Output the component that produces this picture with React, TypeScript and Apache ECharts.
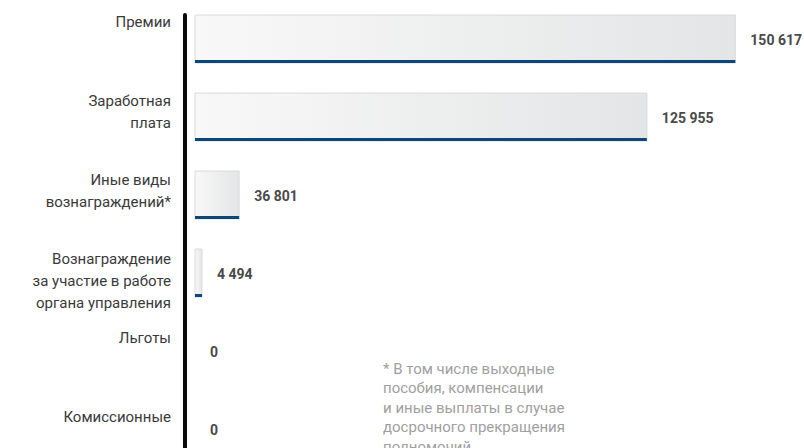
import React, { useEffect, useRef } from "react";
import * as echarts from "echarts";

const categories = [
  "Премии",
  "Заработная\nплата",
  "Иные виды\nвознаграждений*",
  "Вознаграждение\nза участие в работе\nоргана управления",
  "Льготы",
  "Комиссионные",
];
// values printed next to the bars
const values = [150617, 125955, 36801, 4494, 0, 0];
// bar lengths as drawn in the picture (same units as the value axis)
const barLengths = [150617, 125955, 12300, 1950, 0, 0];
const footnoteLines = [
  "* В том числе выходные",
  "пособия, компенсации",
  "и иные выплаты в случае",
  "досрочного прекращения",
  "полномочий",
];

const fmt = (v: number) => String(v).replace(/\B(?=(\d{3})+(?!\d))/g, " ");

const SHIFT = 28; // chart canvas starts above the visible page

export default function App() {
  const ref = useRef<HTMLDivElement>(null);
  useEffect(() => {
    document.body.style.margin = "0";
    document.body.style.overflow = "hidden";
    const chart = echarts.init(ref.current!, null, { renderer: "svg" });
    const data = barLengths.map((b, i) => [b, i, values[i]]);
    const option: any = {
      animation: false,
      backgroundColor: "#ffffff",
      grid: [
        { left: 195, right: 35, top: SHIFT, height: 468 },
        { left: 195, right: 35, top: 0, height: 473 },
        { left: 195, right: 35, top: SHIFT + 15, bottom: 0 },
      ],
      xAxis: [
        { gridIndex: 0, type: "value", min: 0, max: 160000, show: false },
        { gridIndex: 1, type: "value", min: 0, max: 1, show: false },
        { gridIndex: 2, type: "value", min: 0, max: 1, show: false },
      ],
      yAxis: [
        {
          gridIndex: 0,
          type: "category",
          inverse: true,
          data: categories,
          axisLine: { show: false },
          axisTick: { show: false },
          axisLabel: { show: false },
        },
        {
          gridIndex: 1,
          type: "category",
          inverse: true,
          data: categories,
          offset: 10,
          axisLine: { show: false },
          axisTick: { show: false },
          axisLabel: {
            margin: 14,
            verticalAlign: "top",
            align: "right",
            lineHeight: 22,
            fontSize: 15,
            fontFamily: "Roboto",
            color: "#3a3a3a",
          },
        },
        {
          gridIndex: 2,
          type: "value",
          min: 0,
          max: 1,
          offset: 10,
          axisLine: {
            show: true,
            onZero: false,
            lineStyle: { color: "#0a0a0a", width: 4 },
          },
          axisTick: { show: false },
          axisLabel: { show: false },
          splitLine: { show: false },
        },
      ],
      series: [
        {
          type: "custom",
          xAxisIndex: 0,
          yAxisIndex: 0,
          encode: { x: 0, y: 1 },
          data,
          renderItem: (params: any, api: any) => {
            const idx = api.value(1);
            const start = api.coord([0, idx]);
            const end = api.coord([api.value(0), idx]);
            const h = 48;
            const w = end[0] - start[0];
            const children: any[] = [];
            if (w > 0) {
              children.push({
                type: "rect",
                shape: { x: start[0], y: start[1] - h / 2, width: w, height: h },
                style: {
                  fill: new echarts.graphic.LinearGradient(0, 0, 1, 0, [
                    { offset: 0, color: "#f8f8f8" },
                    { offset: 1, color: "#e4e5e6" },
                  ]),
                  stroke: "#dadada",
                  lineWidth: 1,
                },
              });
              children.push({
                type: "rect",
                shape: { x: start[0], y: start[1] + h / 2 - 3, width: w, height: 3 },
                style: { fill: "#0d4678" },
              });
            }
            children.push({
              type: "text",
              style: {
                text: fmt(api.value(2)),
                x: end[0] + 15,
                y: start[1] + 1,
                align: "left",
                verticalAlign: "middle",
                fontSize: 14,
                fontWeight: "bold",
                fontFamily: "Roboto",
                fill: "#4a4a4a",
              },
            });
            return { type: "group", children };
          },
        },
      ],
      graphic: [
        {
          type: "text",
          left: 383,
          top: SHIFT + 359,
          style: {
            text: footnoteLines.join("\n"),
            fontSize: 15,
            lineHeight: 19.5,
            fontFamily: "Roboto",
            fill: "#a0a0a0",
          },
        },
      ],
    };
    chart.setOption(option);
    return () => chart.dispose();
  }, []);
  return (
    <div
      ref={ref}
      style={{ position: "fixed", left: 0, top: -SHIFT, width: 804, height: 530 }}
    />
  );
}
